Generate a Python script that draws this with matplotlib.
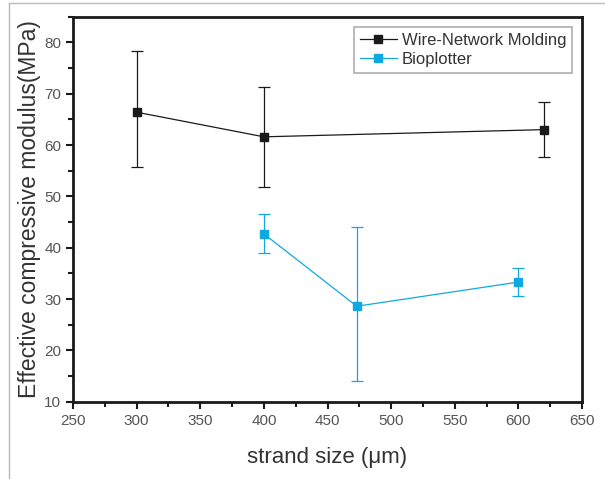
import matplotlib
matplotlib.use("Agg")
import matplotlib.pyplot as plt
from matplotlib.lines import Line2D
from matplotlib.ticker import MultipleLocator

plt.rcParams['font.family'] = ['Liberation Sans', 'DejaVu Sans']

# Data
wnm_x = [300, 400, 620]
wnm_y = [66.4, 61.6, 63.0]
wnm_lo = [55.7, 51.8, 57.7]
wnm_hi = [78.4, 71.3, 68.3]

bio_x = [400, 473, 600]
bio_y = [42.7, 28.6, 33.3]
bio_lo = [38.9, 14.0, 30.5]
bio_hi = [46.6, 44.0, 36.0]

xticks = [250, 300, 350, 400, 450, 500, 550, 600, 650]
yticks = [10, 20, 30, 40, 50, 60, 70, 80]

black = '#1a1a1a'
blue = '#10a8e0'

fig = plt.figure(figsize=(6.05, 4.79), dpi=100)
ax = fig.add_axes([73/605, 1-401.7/479, (582-73)/605, (401.7-16.7)/479])

def errs(y, lo, hi):
    return [[a - b for a, b in zip(y, lo)], [c - a for a, c in zip(y, hi)]]

ax.errorbar(wnm_x, wnm_y, yerr=errs(wnm_y, wnm_lo, wnm_hi), color=black, lw=0.9,
            marker='s', ms=6, capsize=4, elinewidth=0.9, capthick=0.9)
ax.errorbar(bio_x, bio_y, yerr=errs(bio_y, bio_lo, bio_hi), color=blue, lw=0.9,
            marker='s', ms=6, capsize=4, elinewidth=0.9, capthick=0.9)

ax.set_xlim(250, 650)
ax.set_ylim(10, 85)
ax.set_xticks(xticks)
ax.set_yticks(yticks)
ax.xaxis.set_minor_locator(MultipleLocator(25))
ax.yaxis.set_minor_locator(MultipleLocator(5))
ax.tick_params(which='both', direction='out', width=1.5, colors=black, labelcolor='#555555',
               labelsize=11)
ax.tick_params(which='major', length=5)
ax.tick_params(which='minor', length=3.5)
for s in ax.spines.values():
    s.set_linewidth(2)
    s.set_color(black)

ax.set_xlabel('strand size (\u03bcm)', fontsize=16, color='#333333', labelpad=14)
ax.set_ylabel('Effective compressive modulus(MPa)', fontsize=16.5, color='#333333', labelpad=2)

handles = [Line2D([], [], color=black, lw=0.9, marker='s', ms=6),
           Line2D([], [], color=blue, lw=0.9, marker='s', ms=6)]
labels = ['Wire-Network Molding', 'Bioplotter']
leg = ax.legend(handles, labels, loc='upper right', fontsize=12, frameon=True, fancybox=False,
                edgecolor='#999999', borderaxespad=0.6, handlelength=2.2,
                handletextpad=0.3, labelspacing=0.25, borderpad=0.35)
leg.get_frame().set_linewidth(1.2)
for t in leg.get_texts():
    t.set_color('#333333')

# light outer border
fig.add_artist(Line2D([9/605, 9/605], [0, 1-3/479], color='#bbbbbb', lw=1))
fig.add_artist(Line2D([9/605, 1], [1-3/479, 1-3/479], color='#bbbbbb', lw=1))

fig.savefig('out.png', dpi=100)
